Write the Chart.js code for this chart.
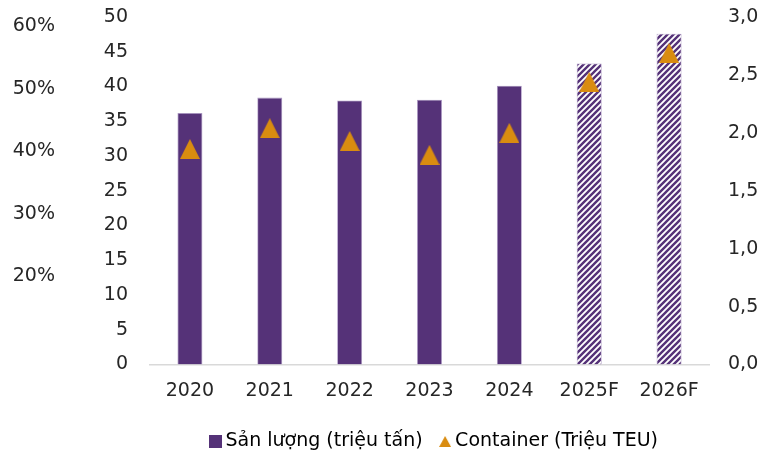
<!DOCTYPE html>
<html>
<head>
<meta charset="utf-8">
<script src="https://cdn.jsdelivr.net/npm/chart.js@4.4.1/dist/chart.umd.min.js"></script>
<style>
  html, body { margin: 0; padding: 0; background: #ffffff; }
  #wrap { width: 771px; height: 450px; position: relative; }
</style>
</head>
<body>
<div id="wrap"><canvas id="c"></canvas></div>
<script>
// ---- data ----
const categories = ['2020', '2021', '2022', '2023', '2024', '2025F', '2026F'];
const sanLuong = [36.2, 38.4, 38.0, 38.1, 40.1, 43.3, 47.6];      // triệu tấn (left axis)
const container = [1.86, 2.04, 1.93, 1.81, 2.00, 2.44, 2.69];    // triệu TEU (right axis)
const forecastFlags = [false, false, false, false, false, true, true];
const pctTicks = [20, 30, 40, 50, 60];                            // outer left axis labels (%)
const leftTicksStep = 5;
const rightTicksStep = 0.5;
const seriesNames = ['Sản lượng (triệu tấn)', 'Container (Triệu TEU)'];

// ---- styles ----
const PURPLE = '#553278';
const ORANGE = '#D98C10';
const FONT = "'DejaVu Sans', sans-serif";

function makeHatch() {
  const s = 6;
  const c = document.createElement('canvas');
  c.width = s; c.height = s;
  const g = c.getContext('2d');
  g.fillStyle = '#ffffff';
  g.fillRect(0, 0, s, s);
  g.strokeStyle = PURPLE;
  g.lineWidth = 2.4;
  g.beginPath();
  g.moveTo(-1, s + 1); g.lineTo(s + 1, -1);
  g.moveTo(-1 - s, s + 1); g.lineTo(1, -1);
  g.moveTo(s - 1, s + 1); g.lineTo(s + s + 1, -1);
  g.stroke();
  return document.getElementById('c').getContext('2d').createPattern(c, 'repeat');
}

function makeTriangle(w, h) {
  const c = document.createElement('canvas');
  c.width = w; c.height = h;
  const g = c.getContext('2d');
  g.fillStyle = ORANGE;
  g.beginPath();
  g.moveTo(w / 2, 0);
  g.lineTo(w, h);
  g.lineTo(0, h);
  g.closePath();
  g.fill();
  return c;
}

function makeSquare(s) {
  const c = document.createElement('canvas');
  c.width = s; c.height = s;
  const g = c.getContext('2d');
  g.fillStyle = PURPLE;
  g.fillRect(0, 0, s, s);
  return c;
}

const hatch = makeHatch();
const triMarker = makeTriangle(20, 20);
const triLegend = makeTriangle(12, 11);
const sqLegend = makeSquare(13);

const barColors = forecastFlags.map(f => f ? hatch : PURPLE);

// nudge the legend block slightly right (reference legend is not exactly centred)
const legendNudge = {
  id: 'legendNudge',
  afterLayout(chart) {
    if (chart.legend) { chart.legend.left += 7; chart.legend.right += 7; }
  }
};

Chart.defaults.font.family = FONT;
Chart.defaults.font.size = 19;
Chart.defaults.color = '#262626';

new Chart(document.getElementById('c'), {
  data: {
    labels: categories,
    datasets: [
      {
        type: 'bar',
        label: seriesNames[0],
        data: sanLuong,
        yAxisID: 'y',
        backgroundColor: barColors,
        borderColor: 'rgba(150,125,180,0.8)',
        borderWidth: 0.8,
        barPercentage: 0.3125,
        categoryPercentage: 1.0,
        order: 2
      },
      {
        type: 'line',
        label: seriesNames[1],
        data: container,
        yAxisID: 'y2',
        showLine: false,
        pointStyle: triMarker,
        pointRadius: 10,
        backgroundColor: ORANGE,
        borderColor: ORANGE,
        order: 1
      }
    ]
  },
  plugins: [legendNudge],
  options: {
    responsive: true,
    maintainAspectRatio: false,
    animation: false,
    layout: { padding: { top: 17, bottom: -11, left: 0, right: 0 } },
    plugins: {
      tooltip: { enabled: false },
      legend: {
        position: 'bottom',
        fullSize: false,
        labels: {
          usePointStyle: true,
          pointStyleWidth: 1,
          padding: 22,
          font: { size: 19 },
          color: '#262626',
          generateLabels: (chart) => [
            { text: seriesNames[0], pointStyle: sqLegend, fillStyle: PURPLE, strokeStyle: PURPLE, lineWidth: 0, datasetIndex: 0, hidden: false },
            { text: seriesNames[1], pointStyle: triLegend, fillStyle: ORANGE, strokeStyle: ORANGE, lineWidth: 0, datasetIndex: 1, hidden: false }
          ]
        }
      }
    },
    scales: {
      x: {
        type: 'category',
        grid: { display: false, drawTicks: false },
        border: { display: true, color: '#d9d9d9', width: 1.5 },
        ticks: { padding: 15, color: '#262626' },
        afterFit: (s) => { s.height = 45.5; }
      },
      pct: {
        type: 'linear',
        position: 'left',
        weight: 2,
        min: 5.83,
        max: 61.48,
        grid: { display: false, drawTicks: true, tickLength: 25 },
        border: { display: false },
        afterBuildTicks: (s) => { s.ticks = pctTicks.map(v => ({ value: v })); },
        ticks: { padding: 0, color: '#262626', callback: (v) => v + '%' },
        afterFit: (s) => { s.width = 80; }
      },
      y: {
        type: 'linear',
        position: 'left',
        weight: 1,
        min: 0,
        max: 50,
        grid: { display: false, drawTicks: true, tickLength: 22 },
        border: { display: false },
        ticks: { stepSize: leftTicksStep, padding: 0, color: '#262626' },
        afterFit: (s) => { s.width = 70; }
      },
      y2: {
        type: 'linear',
        position: 'right',
        min: 0,
        max: 3,
        grid: { display: false, drawTicks: true, tickLength: 19 },
        border: { display: false },
        ticks: { stepSize: rightTicksStep, padding: 0, color: '#262626',
                 callback: (v) => v.toFixed(1).replace('.', ',') },
        afterFit: (s) => { s.width = 62; }
      }
    }
  }
});
</script>
</body>
</html>
